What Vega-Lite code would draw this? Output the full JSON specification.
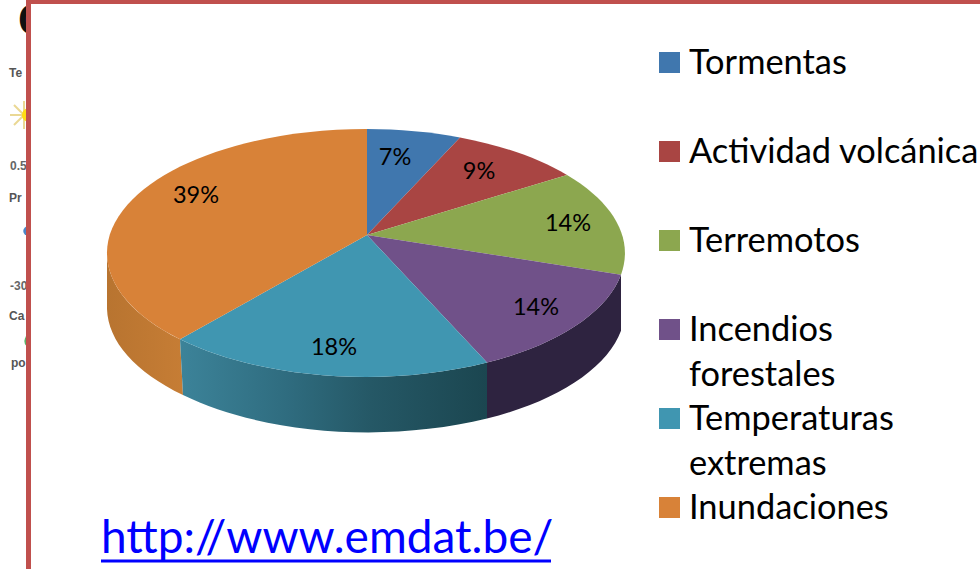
{
"$schema":"https://vega.github.io/schema/vega-lite/v6.json",
"width":980,"height":569,"padding":0,
"autosize":{"type":"fit","contains":"padding"},
"background":"white",
"config":{"view":{"stroke":null}},
"data":{"values":[
{"categoria":"Tormentas","etiqueta":"Tormentas","valor":0.07},
{"categoria":"Actividad volcánica","etiqueta":"Actividad volcánica","valor":0.09},
{"categoria":"Terremotos","etiqueta":"Terremotos","valor":0.14},
{"categoria":"Incendios forestales","etiqueta":"Incendios\nforestales","valor":0.14},
{"categoria":"Temperaturas extremas","etiqueta":"Temperaturas\nextremas","valor":0.18},
{"categoria":"Inundaciones","etiqueta":"Inundaciones","valor":0.39}
]},
"layer":[
{"data":{"values":[{"t":"C"}]},"mark":{"type":"text","clip":true,"font":"Liberation Sans","fontWeight":"bold","fontSize":44,"align":"center","baseline":"middle","color":"#111111"},"encoding":{"text":{"field":"t"},"x":{"value":34},"y":{"value":22}}},
{"data":{"values":[{"t":"Te"}]},"mark":{"type":"text","font":"Liberation Sans","fontWeight":"bold","fontSize":12,"align":"left","baseline":"middle","color":"#555555"},"encoding":{"text":{"field":"t"},"x":{"value":9},"y":{"value":73}}},
{"data":{"values":[{"t":"0.5"}]},"mark":{"type":"text","font":"Liberation Sans","fontWeight":"bold","fontSize":12,"align":"left","baseline":"middle","color":"#666666"},"encoding":{"text":{"field":"t"},"x":{"value":10},"y":{"value":166}}},
{"data":{"values":[{"t":"Pr"}]},"mark":{"type":"text","font":"Liberation Sans","fontWeight":"bold","fontSize":12,"align":"left","baseline":"middle","color":"#555555"},"encoding":{"text":{"field":"t"},"x":{"value":9},"y":{"value":198}}},
{"data":{"values":[{"t":"-30"}]},"mark":{"type":"text","font":"Liberation Sans","fontWeight":"bold","fontSize":12,"align":"left","baseline":"middle","color":"#666666"},"encoding":{"text":{"field":"t"},"x":{"value":10},"y":{"value":286}}},
{"data":{"values":[{"t":"Ca"}]},"mark":{"type":"text","font":"Liberation Sans","fontWeight":"bold","fontSize":12,"align":"left","baseline":"middle","color":"#555555"},"encoding":{"text":{"field":"t"},"x":{"value":9},"y":{"value":316}}},
{"data":{"values":[{"t":"po"}]},"mark":{"type":"text","font":"Liberation Sans","fontWeight":"bold","fontSize":12,"align":"left","baseline":"middle","color":"#555555"},"encoding":{"text":{"field":"t"},"x":{"value":11},"y":{"value":363}}},
{"data":{"values":[{"n":"sol"}]},"mark":{"type":"point","shape":"M-14,0 L14,0 M0,-14 L0,14 M-10,-10 L10,10 M-10,10 L10,-10","size":4,"filled":false,"stroke":"#e6cf7a","strokeWidth":2,"opacity":0.8},"encoding":{"x":{"value":24},"y":{"value":115}}},
{"data":{"values":[{"n":"sol"}]},"mark":{"type":"point","shape":"circle","size":200,"filled":true,"fill":"#ffdc14","opacity":1},"encoding":{"x":{"value":29},"y":{"value":115}}},
{"data":{"values":[{"n":"gota"}]},"mark":{"type":"point","shape":"circle","size":90,"filled":true,"fill":"#4a86c8","opacity":1},"encoding":{"x":{"value":28},"y":{"value":231}}},
{"data":{"values":[{"n":"hoja"}]},"mark":{"type":"point","shape":"circle","size":180,"filled":true,"fill":"#58b368","opacity":1},"encoding":{"x":{"value":31},"y":{"value":341}}},
{"data":{"values":[{"n":"panel"}]},"mark":{"type":"rect","fill":"white"},"encoding":{"x":{"value":31},"x2":{"value":980},"y":{"value":3},"y2":{"value":569}}},
{"data":{"values":[{"n":"marco"}]},"mark":{"type":"rule","clip":true,"color":"#c0504d","strokeWidth":5},"encoding":{"x":{"value":28.5},"y":{"value":0},"y2":{"value":569}}},
{"data":{"values":[{"n":"marco"}]},"mark":{"type":"rule","clip":true,"color":"#c0504d","strokeWidth":4},"encoding":{"y":{"value":2},"x":{"value":26},"x2":{"value":980}}},

{"transform":[{"filter":"datum.categoria==='Inundaciones'"}],
 "mark":{"type":"point","size":4,"filled":true,"opacity":1,"strokeWidth":0,"shape":"M-259,0 A259,124 0 0 0 -186,86.3 L-183,142 A259,124 0 0 1 -259,56 Z",
 "fill":{"gradient":"linear","x1":0,"y1":0,"x2":1,"y2":0,"stops":[{"offset":0,"color":"#b87430"},{"offset":1,"color":"#c67d35"}]}},
 "encoding":{"x":{"value":366},"y":{"value":253}}},
{"transform":[{"filter":"datum.categoria==='Temperaturas extremas'"}],
 "mark":{"type":"point","size":4,"filled":true,"opacity":1,"strokeWidth":0,"shape":"M-186,86.3 A259,124 0 0 0 121,109.6 L121,165.6 A259,124 0 0 1 -183,142 Z",
 "fill":{"gradient":"linear","x1":0,"y1":0,"x2":1,"y2":0,"stops":[{"offset":0,"color":"#3c8399"},{"offset":0.35,"color":"#2f6c7f"},{"offset":0.62,"color":"#255866"},{"offset":1,"color":"#1b4650"}]}},
 "encoding":{"x":{"value":366},"y":{"value":253}}},
{"transform":[{"filter":"datum.categoria==='Incendios forestales'"}],
 "mark":{"type":"point","size":4,"filled":true,"opacity":1,"strokeWidth":0,"shape":"M121,109.6 A259,124 0 0 0 255,21.7 L255,77.7 A259,124 0 0 1 121,165.6 Z","fill":"#2e2340"},
 "encoding":{"x":{"value":366},"y":{"value":253}}},

{"mark":{"type":"point","size":4,"filled":true,"opacity":1,"strokeWidth":0},
 "encoding":{"x":{"value":366},"y":{"value":253},
  "shape":{"field":"categoria","type":"nominal","legend":null,"scale":{"domain":["Tormentas","Actividad volcánica","Terremotos","Incendios forestales","Temperaturas extremas","Inundaciones"],
   "range":["M1,-18 L1,-124 A259,124 0 0 1 94,-115.6 Z","M1,-18 L94,-115.6 A259,124 0 0 1 201,-78 Z","M1,-18 L201,-78 A259,124 0 0 1 255,21.7 Z","M1,-18 L255,21.7 A259,124 0 0 1 121,109.6 Z","M1,-18 L121,109.6 A259,124 0 0 1 -186,86.3 Z","M1,-18 L-186,86.3 A259,124 0 0 1 1,-124 Z"]}},
  "fill":{"field":"categoria","type":"nominal","legend":null,"scale":{"domain":["Tormentas","Actividad volcánica","Terremotos","Incendios forestales","Temperaturas extremas","Inundaciones"],"range":["#4077ae","#a94543","#8ca74f","#705189","#4096b1","#d88238"]}}}},

{"transform":[{"filter":"datum.categoria==='Tormentas'"}],"mark":{"type":"text","font":"Lato","fontSize":23.5,"align":"center","baseline":"middle","color":"black"},"encoding":{"text":{"field":"valor","format":".0%"},"x":{"value":395},"y":{"value":158}}},
{"transform":[{"filter":"datum.categoria==='Actividad volcánica'"}],"mark":{"type":"text","font":"Lato","fontSize":23.5,"align":"center","baseline":"middle","color":"black"},"encoding":{"text":{"field":"valor","format":".0%"},"x":{"value":479},"y":{"value":172}}},
{"transform":[{"filter":"datum.categoria==='Terremotos'"}],"mark":{"type":"text","font":"Lato","fontSize":23.5,"align":"center","baseline":"middle","color":"black"},"encoding":{"text":{"field":"valor","format":".0%"},"x":{"value":568},"y":{"value":224}}},
{"transform":[{"filter":"datum.categoria==='Incendios forestales'"}],"mark":{"type":"text","font":"Lato","fontSize":23.5,"align":"center","baseline":"middle","color":"black"},"encoding":{"text":{"field":"valor","format":".0%"},"x":{"value":536},"y":{"value":308}}},
{"transform":[{"filter":"datum.categoria==='Temperaturas extremas'"}],"mark":{"type":"text","font":"Lato","fontSize":23.5,"align":"center","baseline":"middle","color":"black"},"encoding":{"text":{"field":"valor","format":".0%"},"x":{"value":334},"y":{"value":348}}},
{"transform":[{"filter":"datum.categoria==='Inundaciones'"}],"mark":{"type":"text","font":"Lato","fontSize":23.5,"align":"center","baseline":"middle","color":"black"},"encoding":{"text":{"field":"valor","format":".0%"},"x":{"value":196},"y":{"value":196}}},

{"mark":{"type":"point","shape":"square","size":441,"filled":true,"opacity":1,"strokeWidth":0},
 "encoding":{"x":{"value":669.5},
  "y":{"field":"categoria","type":"nominal","axis":null,"sort":null,"scale":{"type":"point","padding":0,"domain":["Tormentas","Actividad volcánica","Terremotos","Incendios forestales","Temperaturas extremas","Inundaciones"],"range":[62.5,507.5]}},
  "fill":{"field":"categoria","type":"nominal","legend":null,"scale":{"domain":["Tormentas","Actividad volcánica","Terremotos","Incendios forestales","Temperaturas extremas","Inundaciones"],"range":["#4077ae","#a94543","#8ca74f","#705189","#4096b1","#d88238"]}}}},
{"mark":{"type":"text","font":"Lato","fontSize":34.4,"align":"left","baseline":"alphabetic","lineBreak":"\n","lineHeight":45,"dy":11,"color":"black"},
 "encoding":{"x":{"value":689},"text":{"field":"etiqueta"},
  "y":{"field":"categoria","type":"nominal","axis":null,"sort":null,"scale":{"type":"point","padding":0,"domain":["Tormentas","Actividad volcánica","Terremotos","Incendios forestales","Temperaturas extremas","Inundaciones"],"range":[62.5,507.5]}}}},

{"data":{"values":[{"t":"http://www.emdat.be/"}]},"mark":{"type":"text","font":"Lato","fontSize":46,"align":"left","baseline":"alphabetic","color":"#0000ff"},"encoding":{"text":{"field":"t"},"x":{"value":101},"y":{"value":553}}},
{"data":{"values":[{"n":"subrayado"}]},"mark":{"type":"rule","color":"#0000ff","strokeWidth":3},"encoding":{"y":{"value":561},"x":{"value":101},"x2":{"value":551}}}
]
}
